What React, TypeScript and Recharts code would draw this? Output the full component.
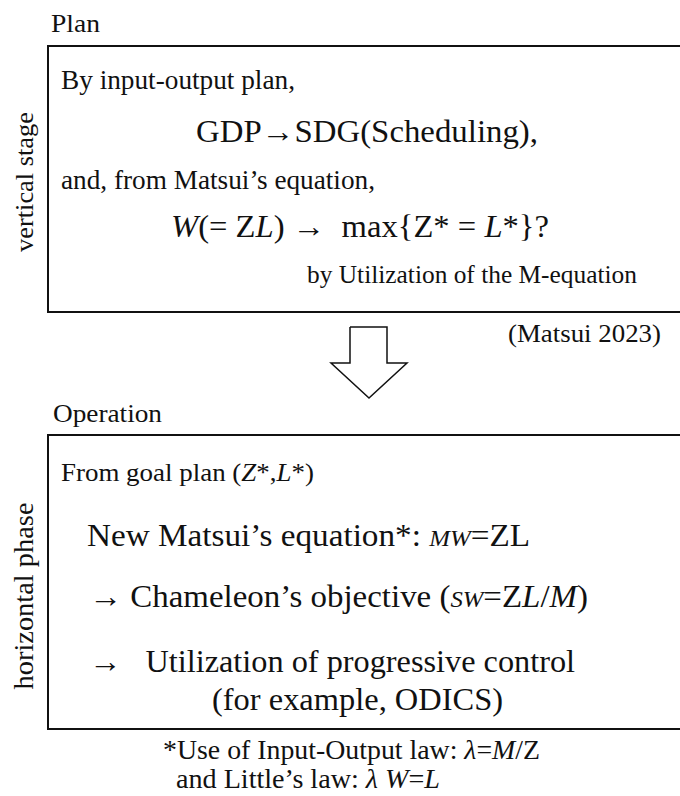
import React from 'react';
import { ScatterChart, Scatter, XAxis, YAxis, ReferenceArea } from 'recharts';

type Seg = { t: string; i?: boolean; s?: number };
type TextLine = { x: number; y: number; size: number; len?: number; anchor?: 'start' | 'middle' | 'end'; rotate?: number; segs: Seg[] };

const W = 680;
const H = 796;
const FONT = '"Liberation Serif", "Tinos", "DejaVu Serif", serif';

// frames (data coords, y grows downward)
const planBox = { x1: 48, x2: 700, y1: 46, y2: 312 };
const opBox = { x1: 48, x2: 700, y1: 435, y2: 729 };

// block arrow outline between the two stages
const arrowPts = [
  { x: 350, y: 327 },
  { x: 387, y: 327 },
  { x: 387, y: 363 },
  { x: 407, y: 363 },
  { x: 369, y: 398 },
  { x: 331, y: 363 },
  { x: 350, y: 363 },
  { x: 350, y: 327 },
];

const headings: TextLine[] = [
  { x: 51, y: 32, size: 26, len: 49, segs: [{ t: 'Plan' }] },
  { x: 53, y: 422, size: 26, len: 109, segs: [{ t: 'Operation' }] },
];

const sideLabels: TextLine[] = [
  { x: 33, y: 182, size: 26, len: 140, anchor: 'middle', rotate: -90, segs: [{ t: 'vertical stage' }] },
  { x: 33, y: 596, size: 28, len: 187, anchor: 'middle', rotate: -90, segs: [{ t: 'horizontal phase' }] },
];

const planLines: TextLine[] = [
  { x: 61, y: 89, size: 27, len: 234, segs: [{ t: 'By input-output plan,' }] },
  { x: 196, y: 142, size: 31, len: 342, segs: [{ t: 'GDP→SDG(Scheduling),' }] },
  { x: 61, y: 189, size: 27, len: 314, segs: [{ t: 'and, from Matsui’s equation,' }] },
  {
    x: 171, y: 237, size: 31, len: 378,
    segs: [
      { t: 'W', i: true }, { t: '(= Z' }, { t: 'L', i: true }, { t: ') →  max{Z* = ' }, { t: 'L', i: true }, { t: '*}?' },
    ],
  },
  { x: 307, y: 283, size: 25, len: 330, segs: [{ t: 'by Utilization of the M-equation' }] },
  { x: 508, y: 342, size: 26, len: 153, segs: [{ t: '(Matsui 2023)' }] },
];

const opLines: TextLine[] = [
  { x: 61, y: 481, size: 26, len: 253, segs: [{ t: 'From goal plan (' }, { t: 'Z', i: true }, { t: '*,' }, { t: 'L', i: true }, { t: '*)' }] },
  {
    x: 87, y: 546, size: 32, len: 443,
    segs: [{ t: 'New Matsui’s equation*: ' }, { t: 'MW', i: true, s: 24 }, { t: '=' }, { t: 'ZL' }],
  },
  {
    x: 89, y: 607, size: 32, len: 499,
    segs: [{ t: '→ Chameleon’s objective (' }, { t: 'SW', i: true, s: 24 }, { t: '=Z' }, { t: 'L', i: true }, { t: '/' }, { t: 'M', i: true }, { t: ')' }],
  },
  { x: 89, y: 672, size: 32, len: 486, segs: [{ t: '→   Utilization of progressive control' }] },
  { x: 212, y: 710, size: 32, len: 291, segs: [{ t: '(for example, ODICS)' }] },
];

const footLines: TextLine[] = [
  { x: 163, y: 759, size: 27, len: 377, segs: [{ t: '*Use of Input-Output law: ' }, { t: 'λ', i: true }, { t: '=' }, { t: 'M', i: true }, { t: '/Z' }] },
  { x: 176, y: 788, size: 27, len: 264, segs: [{ t: 'and Little’s law: ' }, { t: 'λ W', i: true }, { t: '=' }, { t: 'L', i: true }] },
];

const allText = [...headings, ...sideLabels, ...planLines, ...opLines, ...footLines];

const TextShape = (props: any) => {
  const { cx, cy, payload } = props;
  const p = payload as TextLine;
  return (
    <text
      x={cx}
      y={cy}
      fill="#111"
      fontFamily="Liberation Serif"
      textAnchor={p.anchor || 'start'}
      textLength={p.len}
      lengthAdjust="spacingAndGlyphs"
      transform={p.rotate ? `rotate(${p.rotate} ${cx} ${cy})` : undefined}
      style={{ whiteSpace: 'pre', fontFamily: FONT, fontSize: p.size }}
    >
      {p.segs.map((s, k) => (
        <tspan key={k} style={{ fontStyle: s.i ? 'italic' : 'normal', fontFamily: FONT, fontSize: s.s || p.size }}>
          {s.t}
        </tspan>
      ))}
    </text>
  );
};

const App = () => {
  return (
    <div style={{ position: 'absolute', left: 0, top: 0, background: '#fff', fontFamily: FONT }}>
      <ScatterChart width={W} height={H} margin={{ top: 0, right: 0, bottom: 0, left: 0 }} style={{ fontFamily: FONT }}>
        <XAxis type="number" dataKey="x" domain={[0, W]} hide />
        <YAxis type="number" dataKey="y" domain={[0, H]} reversed hide />
        <ReferenceArea {...planBox} ifOverflow="visible" fill="none" stroke="#111" strokeWidth={2} />
        <ReferenceArea {...opBox} ifOverflow="visible" fill="none" stroke="#111" strokeWidth={2} />
        <Scatter
          data={arrowPts}
          line={{ stroke: '#111', strokeWidth: 1.5 }}
          shape={() => <g />}
          isAnimationActive={false}
        />
        <Scatter data={allText} shape={TextShape} isAnimationActive={false} />
      </ScatterChart>
    </div>
  );
};

export default App;
